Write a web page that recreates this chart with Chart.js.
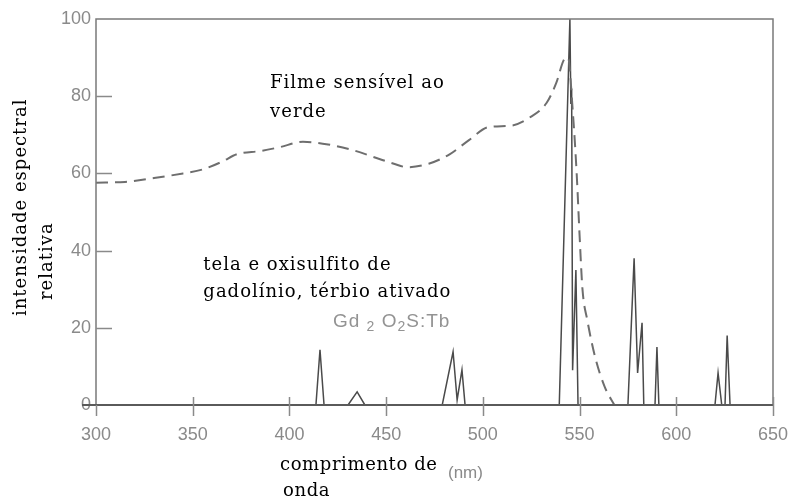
<!DOCTYPE html>
<html>
<head>
<meta charset="utf-8">
<script src="https://cdn.jsdelivr.net/npm/chart.js@4/dist/chart.umd.min.js"></script>
<style>
  html, body { margin: 0; padding: 0; background: #ffffff; }
  #wrap { width: 795px; height: 500px; }
  canvas { display: block; }
</style>
</head>
<body>
<div id="wrap"><canvas id="chart" width="795" height="500"></canvas></div>
<script>
// Wavelength axis (nm) and relative intensity axis
const xTicks = [300, 350, 400, 450, 500, 550, 600, 650];
const yTicks = [0, 20, 40, 60, 80, 100];

// Green-sensitive film: spectral sensitivity curve
const filmNm  = [300, 315, 330, 345, 355, 365, 373, 385, 395, 407, 420, 433, 445, 454, 461, 472, 483, 493, 503, 515, 524, 533, 538, 542, 544, 546.5, 548.5, 550, 551.5, 554, 558, 563, 568];
const filmVal = [57.6, 57.8, 58.8, 60, 61, 63, 65, 65.8, 66.8, 68.2, 67.5, 66, 64, 62.5, 61.6, 62.5, 65, 68.7, 72, 72.4, 74.4, 78.3, 83.5, 89.5, 90, 76, 60, 44, 30, 22, 12.5, 4.7, 0];

// Gd2O2S:Tb screen: emission lines
const screenNm  = [300, 413.7, 415.8, 417.9, 430.3, 435, 439, 479, 484.6, 486.7, 489.2, 490.8, 539.5, 545, 545.5, 545.9, 546.4, 548.1, 549.2, 575, 578.2, 580, 582.3, 583.2, 589, 590, 591, 620, 621.6, 623.5, 625.2, 626.3, 627.8, 650];
const screenVal = [0, 0, 14.3, 0, 0, 3.4, 0, 0, 13.8, 1.3, 9.1, 0, 0, 100, 78, 82, 9, 35, 0, 0, 38, 8.3, 21.3, 0, 0, 15, 0, 0, 8.3, 0, 0, 18, 0, 0];

const pts = (xs, ys) => xs.map((x, i) => ({ x: x, y: ys[i] }));

const TICK_GREY = '#8a8a8a';
const SERIF = '"DejaVu Serif", serif';
const SANS = '"Liberation Sans", Arial, sans-serif';

// Frame, tick marks and all captions
const decorations = {
  id: 'decorations',
  afterDraw(chart) {
    const ctx = chart.ctx;
    const a = chart.chartArea;
    const xs = chart.scales.x, ys = chart.scales.y;
    ctx.save();

    // frame: left, top, right
    ctx.lineWidth = 1.5;
    ctx.strokeStyle = '#7a7a7a';
    ctx.beginPath();
    ctx.moveTo(a.left, a.bottom);
    ctx.lineTo(a.left, a.top);
    ctx.lineTo(a.right, a.top);
    ctx.lineTo(a.right, a.bottom);
    ctx.stroke();

    // baseline
    ctx.strokeStyle = '#5a5a5a';
    ctx.lineWidth = 2;
    ctx.beginPath();
    ctx.moveTo(a.left - 14, a.bottom);
    ctx.lineTo(a.right, a.bottom);
    ctx.stroke();

    // y tick marks pointing into the plot
    ctx.strokeStyle = '#8a8a8a';
    ctx.lineWidth = 1.5;
    yTicks.forEach(v => {
      if (v === 0 || v === 100) return;
      const y = Math.round(ys.getPixelForValue(v)) + 0.5;
      ctx.beginPath();
      ctx.moveTo(a.left, y);
      ctx.lineTo(a.left + 16, y);
      ctx.stroke();
    });

    // x tick marks crossing the baseline
    xTicks.forEach(v => {
      const x = Math.round(xs.getPixelForValue(v)) + 0.5;
      ctx.beginPath();
      ctx.moveTo(x, v === 300 ? a.bottom : a.bottom - 8);
      ctx.lineTo(x, a.bottom + 11);
      ctx.stroke();
    });

    // captions inside the plot
    ctx.fillStyle = '#000000';
    ctx.textBaseline = 'middle';
    ctx.textAlign = 'left';
    ctx.letterSpacing = '1px';
    ctx.font = '18px ' + SERIF;
    const fx = xs.getPixelForValue(390);
    ctx.fillText('Filme sensível ao', fx, ys.getPixelForValue(83.3));
    ctx.fillText('verde', fx, ys.getPixelForValue(75.8));
    const tx = xs.getPixelForValue(355.5);
    ctx.fillText('tela e oxisulfito de', tx, ys.getPixelForValue(36.1));
    ctx.fillText('gadolínio, térbio ativado', tx, ys.getPixelForValue(29.3));

    // phosphor formula with subscripts
    ctx.fillStyle = '#939393';
    let gx = xs.getPixelForValue(422.5);
    const gy = ys.getPixelForValue(21.6);
    const parts = [['Gd', false], [' ', false], ['2', true], [' ', false], ['O', false], ['2', true], ['S:Tb', false]];
    parts.forEach(([t, sub]) => {
      ctx.font = (sub ? '14px ' : '19px ') + SANS;
      ctx.fillText(t, gx, gy + (sub ? 6 : 0));
      gx += ctx.measureText(t).width;
    });

    // axis titles
    ctx.fillStyle = '#000000';
    ctx.font = '18px ' + SERIF;
    ctx.letterSpacing = '0.6px';
    ctx.fillText('comprimento de', 280, 465);
    ctx.fillText('onda', 283, 491);
    ctx.letterSpacing = '0px';
    ctx.fillStyle = '#8a8a8a';
    ctx.font = '17px ' + SANS;
    ctx.fillText('(nm)', 448, 473);

    ctx.letterSpacing = '1px';
    ctx.fillStyle = '#000000';
    ctx.font = '18px ' + SERIF;
    ctx.save();
    ctx.translate(21, 316);
    ctx.rotate(-Math.PI / 2);
    ctx.fillText('intensidade espectral', 0, 0);
    ctx.restore();
    ctx.save();
    ctx.translate(47, 300);
    ctx.rotate(-Math.PI / 2);
    ctx.fillText('relativa', 0, 0);
    ctx.restore();

    ctx.restore();
  }
};

new Chart(document.getElementById('chart'), {
  type: 'line',
  data: {
    datasets: [
      {
        label: 'Filme sensível ao verde',
        data: pts(filmNm, filmVal),
        borderColor: '#6e6e6e',
        borderWidth: 2,
        borderDash: [12, 7],
        pointRadius: 0,
        cubicInterpolationMode: 'monotone',
        fill: false
      },
      {
        label: 'Gd2O2S:Tb',
        data: pts(screenNm, screenVal),
        borderColor: '#4a4a4a',
        borderWidth: 1.5,
        pointRadius: 0,
        tension: 0,
        fill: false
      }
    ]
  },
  options: {
    responsive: false,
    animation: false,
    devicePixelRatio: 1,
    layout: { padding: { top: 19, right: 22, left: 0, bottom: 0 } },
    plugins: { legend: { display: false }, tooltip: { enabled: false } },
    scales: {
      x: {
        type: 'linear',
        min: 300, max: 650,
        afterBuildTicks: s => { s.ticks = xTicks.map(v => ({ value: v })); },
        afterFit: s => { s.height = 95; s.paddingLeft = 0; s.paddingRight = 0; },
        grid: { display: false, drawTicks: false },
        border: { display: false },
        ticks: { padding: 19, color: TICK_GREY, font: { family: SANS, size: 18 }, maxRotation: 0 }
      },
      y: {
        type: 'linear',
        min: 0, max: 100,
        afterBuildTicks: s => { s.ticks = yTicks.map(v => ({ value: v })); },
        afterFit: s => { s.width = 96; s.paddingTop = 0; s.paddingBottom = 0; },
        grid: { display: false, drawTicks: false },
        border: { display: false },
        ticks: { padding: 5, color: TICK_GREY, font: { family: SANS, size: 18 } }
      }
    }
  },
  plugins: [decorations]
});
</script>
</body>
</html>
